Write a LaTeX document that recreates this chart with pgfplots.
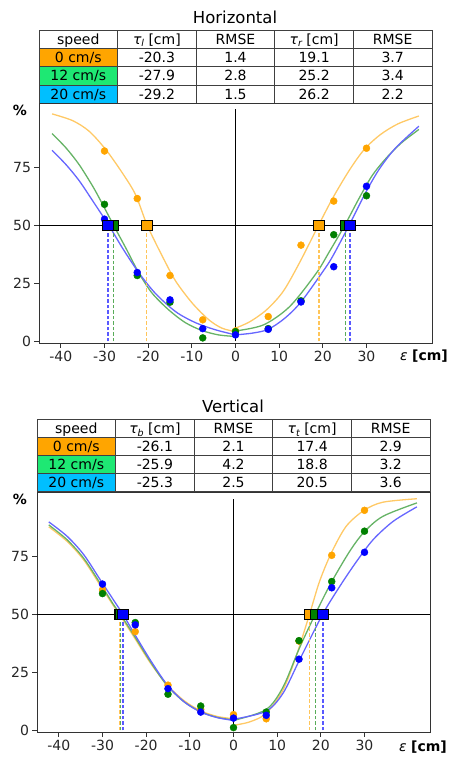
\documentclass[border=0pt]{standalone}
\usepackage{fontspec}
\setmainfont{DejaVu Sans}
\usepackage{pgfplots}
\pgfplotsset{compat=1.18}

\definecolor{cOr}{RGB}{255,165,0}
\definecolor{cGr}{RGB}{0,128,0}
\definecolor{cBl}{RGB}{0,0,255}
\definecolor{cellOr}{RGB}{255,165,0}
\definecolor{cellGr}{RGB}{30,232,115}
\definecolor{cellBl}{RGB}{0,191,255}

\newcommand{\fs}{\fontsize{14}{16}\selectfont}
\newcommand{\tsub}[2]{{\itshape #1}\raisebox{-0.35ex}{\fontsize{9.5}{10}\selectfont\itshape #2}}
\newcommand{\tabtext}[3]{\node[anchor=base, font=\fs] at (#1+0.5,#2+0.78) {#3};}
\newcommand{\tabgrid}{%
  \foreach \i in {0,...,5} {\draw[black!75, line width=0.8pt] (\i,0) -- (\i,4);}
  \foreach \j in {0,...,4} {\draw[black!75, line width=0.8pt] (0,\j) -- (5,\j);}}

\pgfplotsset{
  panel/.style={
    scale only axis, width=393pt, height=240pt,
    xmin=-45, xmax=45, ymin=-0.7, ymax=102.8,
    xtick={-40,-30,-20,-10,0,10,20,30},
    ytick={0,25,50,75},
    axis line style={black!80, line width=0.8pt},
    tick style={black!80, line width=0.8pt},
    tick align=outside, tick pos=left,
    major tick length=4.5pt,
    ticklabel style={font=\fs, text=black!85},
    /pgf/number format/assume math mode=true,
    clip=false,
  },
  fitline/.style={smooth, no marks, line width=1.3pt, #1!60!white},
  pts/.style={only marks, mark=*, mark size=3.5pt, #1, mark options={draw=#1, fill=#1}},
  tau/.style={only marks, mark=square*, mark size=5.2pt, mark options={draw=black, fill=#1, line width=0.8pt}},
  taul/.style={#1!65!white, line width=1.2pt, dash pattern=on 3.5pt off 2pt},
}

\begin{document}
\begin{tikzpicture}
\useasboundingbox (0,0) rectangle (452pt,-758pt);

% ---------------- Horizontal ----------------
\node[font=\fontsize{16.5}{18}\selectfont] at (235pt,-17pt) {Horizontal};
\begin{scope}[shift={(39pt,-30pt)}, x=78.6pt, y=-18.3pt]
  \fill[cellOr] (0,1) rectangle (1,2);
  \fill[cellGr] (0,2) rectangle (1,3);
  \fill[cellBl] (0,3) rectangle (1,4);
  \tabgrid
  \tabtext{0}{0}{speed} \tabtext{1}{0}{\tsub{τ}{l} [cm]} \tabtext{2}{0}{RMSE} \tabtext{3}{0}{\tsub{τ}{r} [cm]} \tabtext{4}{0}{RMSE}
  \tabtext{0}{1}{0 cm/s}  \tabtext{1}{1}{-20.3} \tabtext{2}{1}{1.4} \tabtext{3}{1}{19.1} \tabtext{4}{1}{3.7}
  \tabtext{0}{2}{12 cm/s} \tabtext{1}{2}{-27.9} \tabtext{2}{2}{2.8} \tabtext{3}{2}{25.2} \tabtext{4}{2}{3.4}
  \tabtext{0}{3}{20 cm/s} \tabtext{1}{3}{-29.2} \tabtext{2}{3}{1.5} \tabtext{3}{3}{26.2} \tabtext{4}{3}{2.2}
\end{scope}

\begin{axis}[panel, at={(39pt,-343pt)}, anchor=south west]
\addplot[black, line width=1pt] coordinates {(-45,50) (45,50)};
\addplot[black, line width=0.8pt] coordinates {(0,0) (0,100)};
% fitted curves
\addplot[fitline=cOr] coordinates {(-42,98.1) (-37.3,95.2) (-33.5,90.6) (-29.7,82.7) (-25.9,72.6) (-22.9,63.3) (-20.2,50) (-16.7,36.5) (-13.7,26) (-9.9,16.5) (-6.1,9.3) (-3.1,5.7) (0,4.2)};
\addplot[fitline=cOr] coordinates {(0,5.7) (3.3,8.5) (7.1,13.6) (10.9,21.5) (14.6,33.7) (19.0,50) (22.3,61.9) (26.1,73.9) (29.5,82.8) (33.2,89.2) (37.2,93.8) (42,97.2)};
\addplot[fitline=cGr] coordinates {(-42,89.6) (-38.8,83.4) (-35.8,76.2) (-32.7,66.9) (-30.8,60.4) (-27.9,50) (-25.1,40.2) (-22.1,29.4) (-19.1,20.8) (-15.3,13.6) (-11.5,8.1) (-7.7,4.7) (-3.9,2.8) (0,2.1)};
\addplot[fitline=cGr] coordinates {(0,4.5) (6.4,7.1) (12.4,15.0) (18.5,29.4) (21.5,38.7) (25.0,50) (28.3,61.7) (31.3,71.5) (34.5,79.0) (38,85.6) (42,91.4)};
\addplot[fitline=cBl] coordinates {(-42,82.4) (-38.8,76.2) (-35.8,69.3) (-32.7,60.6) (-29.0,50) (-25.8,40.0) (-22.1,29.5) (-18.3,20.6) (-13.7,12.8) (-9.2,8.1) (-4.6,5.0) (0,2.8)};
\addplot[fitline=cBl] coordinates {(0,2.8) (4,3.6) (7.5,5.2) (11.3,10) (15.0,17.0) (20.0,30.1) (22.2,36.5) (26.0,50) (29.9,64.5) (33,74.5) (36.7,83.5) (42,92.8)};
% thresholds
\addplot[taul=cOr] coordinates {(-20.3,0) (-20.3,50)};
\addplot[taul=cOr] coordinates {(19.1,0) (19.1,50)};
\addplot[taul=cGr] coordinates {(-27.9,0) (-27.9,50)};
\addplot[taul=cGr] coordinates {(25.2,0) (25.2,50)};
\addplot[taul=cBl] coordinates {(-29.2,0) (-29.2,50)};
\addplot[taul=cBl] coordinates {(26.2,0) (26.2,50)};
% measured points
\addplot[pts=cOr] coordinates {(-30,82.1) (-22.5,61.6) (-15,28.4) (-7.5,9.3) (0,4.5) (7.5,10.7) (15,41.5) (22.5,60.5) (30,83.3)};
\addplot[pts=cGr] coordinates {(-30,59.1) (-22.5,28.4) (-15,16.9) (-7.5,1.5) (0,4.2) (7.5,5.5) (15,17.5) (22.5,46.0) (30,62.8)};
\addplot[pts=cBl] coordinates {(-30,52.7) (-22.5,29.7) (-15,17.9) (-7.5,5.5) (0,2.8) (7.5,5.2) (15,17.0) (22.5,32.2) (30,66.9)};
\addplot[tau=cOr] coordinates {(-20.3,50) (19.1,50)};
\addplot[tau=cGr] coordinates {(-27.9,50) (25.2,50)};
\addplot[tau=cBl] coordinates {(-29.2,50) (26.2,50)};
\end{axis}
\node[font=\bfseries\fs] at (20pt,-110pt) {\%};
\node[font=\fs] at (424pt,-356pt) {{\itshape ε} \textbf{[cm]}};

% ---------------- Vertical ----------------
\node[font=\fontsize{16.5}{18}\selectfont] at (233pt,-406pt) {Vertical};
\begin{scope}[shift={(37pt,-419.3pt)}, x=78.6pt, y=-18.1pt]
  \fill[cellOr] (0,1) rectangle (1,2);
  \fill[cellGr] (0,2) rectangle (1,3);
  \fill[cellBl] (0,3) rectangle (1,4);
  \tabgrid
  \tabtext{0}{0}{speed} \tabtext{1}{0}{\tsub{τ}{b} [cm]} \tabtext{2}{0}{RMSE} \tabtext{3}{0}{\tsub{τ}{t} [cm]} \tabtext{4}{0}{RMSE}
  \tabtext{0}{1}{0 cm/s}  \tabtext{1}{1}{-26.1} \tabtext{2}{1}{2.1} \tabtext{3}{1}{17.4} \tabtext{4}{1}{2.9}
  \tabtext{0}{2}{12 cm/s} \tabtext{1}{2}{-25.9} \tabtext{2}{2}{4.2} \tabtext{3}{2}{18.8} \tabtext{4}{2}{3.2}
  \tabtext{0}{3}{20 cm/s} \tabtext{1}{3}{-25.3} \tabtext{2}{3}{2.5} \tabtext{3}{3}{20.5} \tabtext{4}{3}{3.6}
\end{scope}

\begin{axis}[panel, at={(37pt,-732pt)}, anchor=south west]
\addplot[black, line width=1pt] coordinates {(-45,50) (45,50)};
\addplot[black, line width=0.8pt] coordinates {(0,0) (0,100)};
% fitted curves
\addplot[fitline=cOr] coordinates {(-42.3,87.8) (-38.1,81.5) (-34.3,73.5) (-30.5,62.5) (-27.5,53.8) (-26.1,50) (-22.8,40.3) (-19,29) (-15.2,19.6) (-11.3,12.8) (-7.5,8.4) (-3.7,6) (0,5.0)};
\addplot[fitline=cOr] coordinates {(0,2.2) (3.6,3.6) (7.4,7.2) (11.3,17.3) (14.3,31.7) (17.4,50) (19.7,64.2) (22.4,76.5) (25.8,88.0) (29.9,94.9) (34.2,98.4) (42,99.9)};
\addplot[fitline=cGr] coordinates {(-42.3,88.6) (-38.1,82.2) (-34.3,74.2) (-30.5,63.3) (-27.5,54.3) (-25.9,50) (-22.8,41) (-19,29.5) (-15.2,19.3) (-11.3,12.3) (-7.5,8.0) (-3.7,5.6) (0,4.5)};
\addplot[fitline=cGr] coordinates {(0,4.3) (7.4,8.9) (11.3,18.5) (15.1,35.5) (18.7,50) (22.4,63.8) (26.6,77.2) (29.9,85.5) (34.2,92.3) (42,98.1)};
\addplot[fitline=cBl] coordinates {(-42.3,89.9) (-38.1,83.7) (-34.3,75.8) (-30.5,64.9) (-27.5,56.3) (-25.3,50) (-22.8,42) (-19,30.2) (-15.2,19.7) (-11.3,12.3) (-7.5,7.9) (-3.7,5.5) (0,4.3)};
\addplot[fitline=cBl] coordinates {(0,4.8) (7.4,8.2) (11.3,15.9) (15.1,30.3) (20.4,50) (24.3,62.0) (28.2,72.9) (32,82.3) (36.6,90.2) (42,96.4)};
% thresholds
\addplot[taul=cOr] coordinates {(-26.1,0) (-26.1,50)};
\addplot[taul=cOr] coordinates {(17.4,0) (17.4,50)};
\addplot[taul=cGr] coordinates {(-25.9,0) (-25.9,50)};
\addplot[taul=cGr] coordinates {(18.8,0) (18.8,50)};
\addplot[taul=cBl] coordinates {(-25.3,0) (-25.3,50)};
\addplot[taul=cBl] coordinates {(20.5,0) (20.5,50)};
% measured points
\addplot[pts=cOr] coordinates {(-30,60.6) (-22.5,42.6) (-15,19.5) (-7.5,9.0) (0,6.8) (7.5,5.0) (15,38.5) (22.5,75.5) (30,94.9)};
\addplot[pts=cGr] coordinates {(-30,59.0) (-22.5,46.5) (-15,15.6) (-7.5,10.5) (0,1.2) (7.5,7.9) (15,38.7) (22.5,64.2) (30,85.9)};
\addplot[pts=cBl] coordinates {(-30,63.1) (-22.5,45.5) (-15,18.0) (-7.5,7.9) (0,5.3) (7.5,6.5) (15,30.7) (22.5,61.5) (30,76.8)};
\addplot[tau=cOr] coordinates {(-26.1,50) (17.4,50)};
\addplot[tau=cGr] coordinates {(-25.9,50) (18.8,50)};
\addplot[tau=cBl] coordinates {(-25.3,50) (20.5,50)};
\end{axis}
\node[font=\bfseries\fs] at (20pt,-499pt) {\%};
\node[font=\fs] at (423pt,-747pt) {{\itshape ε} \textbf{[cm]}};
\end{tikzpicture}
\end{document}
